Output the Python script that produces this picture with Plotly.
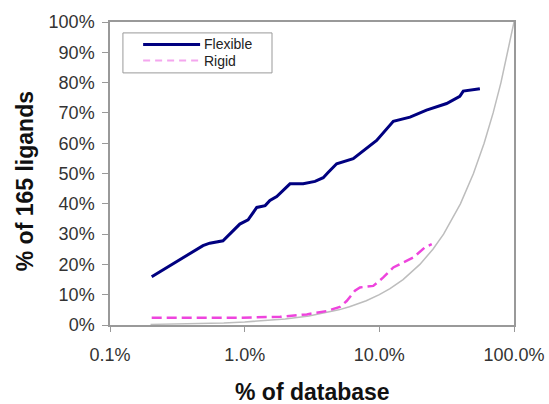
import plotly.graph_objects as go

# Cumulative share of ligands recovered vs. share of database screened
flex_x = [0.204, 0.49, 0.55, 0.69, 0.92, 1.06, 1.23, 1.42, 1.54, 1.73, 2.17, 2.72,
          3.33, 3.83, 4.18, 4.82, 6.4, 8.05, 9.55, 12.7, 16.9, 22.4, 31.6, 39.6, 42.0, 55.8]
flex_y = [15.9, 26.2, 27.0, 27.8, 33.3, 34.7, 38.8, 39.4, 41.1, 42.4, 46.6, 46.6,
          47.4, 48.6, 50.4, 53.2, 54.9, 58.2, 60.9, 67.2, 68.6, 70.9, 73.1, 75.5, 77.2, 78.0]

rigid_x = [0.204, 0.92, 1.83, 2.89, 4.06, 5.10, 5.72, 6.59, 7.18, 9.01, 10.7, 12.7,
           15.0, 17.9, 21.8, 24.5]
rigid_y = [2.4, 2.4, 2.7, 3.5, 4.6, 6.0, 7.9, 11.3, 12.4, 12.9, 15.7, 19.0,
           20.6, 22.3, 25.6, 26.7]

# Random-selection baseline
rand_x = [0.2, 0.3, 0.5, 0.7, 1, 1.5, 2, 3, 4, 5, 6, 7, 8, 10, 12, 15, 20, 25,
          30, 40, 50, 60, 70, 80, 90, 100]
rand_y = [0.2, 0.3, 0.5, 0.7, 1, 1.5, 2, 3, 4, 5, 6, 7, 8, 10, 12, 15, 20, 25,
          30, 40, 50, 60, 70, 80, 90, 100]

x_ticks = [0.1, 1, 10, 100]
x_tick_text = ["0.1%", "1.0%", "10.0%", "100.0%"]

FLEX_COLOR = "#000080"
RIGID_COLOR = "#ee44dd"

fig = go.Figure()
fig.add_trace(go.Scatter(x=rand_x, y=rand_y, mode="lines", showlegend=False,
                         line=dict(color="#bdbdbd", width=1.5)))
fig.add_trace(go.Scatter(x=flex_x, y=flex_y, mode="lines", name="Flexible",
                         showlegend=False, line=dict(color=FLEX_COLOR, width=3)))
fig.add_trace(go.Scatter(x=rigid_x, y=rigid_y, mode="lines", name="Rigid",
                         showlegend=False,
                         line=dict(color=RIGID_COLOR, width=2.5, dash="10px,5px")))

axis_font = dict(family="Liberation Sans, Arial, sans-serif", size=18, color="#333333")

# Compact boxed key in the upper-left corner of the plot area
legend_shapes = [
    dict(type="rect", xref="paper", yref="paper", x0=0.032, x1=0.401, y0=0.832, y1=0.964,
         line=dict(color="#999999", width=1), fillcolor="white", layer="above"),
    dict(type="line", xref="paper", yref="paper", x0=0.082, x1=0.223, y0=0.926, y1=0.926,
         line=dict(color=FLEX_COLOR, width=3), layer="above"),
    dict(type="line", xref="paper", yref="paper", x0=0.082, x1=0.223, y0=0.873, y1=0.873,
         line=dict(color="#f4a6ee", width=2, dash="7px,5px"), layer="above"),
]
legend_labels = [
    dict(text="Flexible", xref="paper", yref="paper", x=0.228, y=0.928,
         xanchor="left", yanchor="middle", showarrow=False,
         font=dict(size=14, color="#222222")),
    dict(text="Rigid", xref="paper", yref="paper", x=0.228, y=0.871,
         xanchor="left", yanchor="middle", showarrow=False,
         font=dict(size=14, color="#222222")),
]

fig.update_layout(
    width=549, height=404,
    margin=dict(l=110, r=35, t=22, b=79),
    paper_bgcolor="white", plot_bgcolor="white",
    font=dict(family="Liberation Sans, Arial, sans-serif", color="#222222"),
    showlegend=False,
    xaxis=dict(type="log", range=[-1, 2], tickvals=x_ticks, ticktext=x_tick_text,
               showgrid=False, zeroline=False, showline=True, linecolor="#999999",
               linewidth=1.5, mirror=True, ticks="outside", ticklen=5,
               tickcolor="#999999", tickfont=axis_font, ticklabelstandoff=8,
               automargin=False),
    yaxis=dict(range=[0, 100], dtick=10, ticksuffix="%", showgrid=False,
               zeroline=False, showline=True, linecolor="#999999", linewidth=1.5,
               mirror=True, ticks="outside", ticklen=6, tickcolor="#999999",
               tickfont=axis_font, ticklabelstandoff=4, automargin=False),
    shapes=legend_shapes,
    annotations=legend_labels + [
        dict(text="<b>% of database</b>", xref="paper", yref="paper",
             x=0.502, y=-0.221, xanchor="center", yanchor="middle", showarrow=False,
             font=dict(size=23, color="#111111")),
        dict(text="<b>% of 165 ligands</b>", xref="paper", yref="paper",
             x=-0.21, y=0.475, xanchor="center", yanchor="middle", showarrow=False,
             textangle=-90, font=dict(size=23, color="#111111")),
    ],
)

fig.write_html("out.html")
